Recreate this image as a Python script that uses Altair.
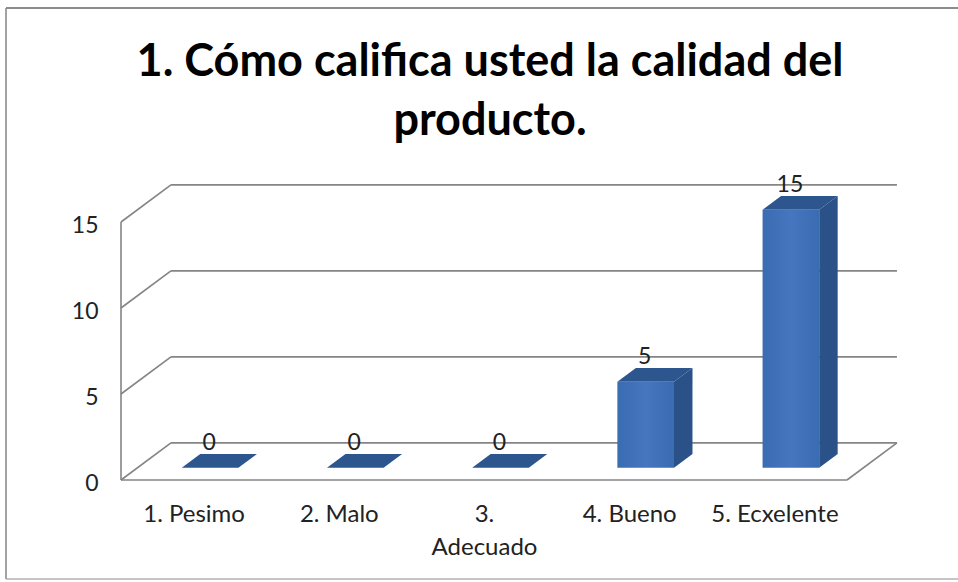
import json
import altair as alt
import pandas as pd

# Survey results
categories = ["1. Pesimo", "2. Malo", "3. Adecuado", "4. Bueno", "5. Ecxelente"]
axis_labels = ["1. Pesimo", "2. Malo", ["3.", "Adecuado"], "4. Bueno", "5. Ecxelente"]
values = [0, 0, 0, 5, 15]
y_ticks = [0, 5, 10, 15]
title_lines = ["1. Cómo califica usted la calidad del", "producto."]

# Oblique projection of the floor depth, in axis units
depth_x = 0.344
depth_y = 2.16
bar_front = 0.33
bar_back = 0.70
bar_width = 0.39

FONT = "Lato"
GRID = "#858585"

x_enc = alt.X(
    "x:Q",
    scale=alt.Scale(domain=[0, 5], nice=False, zero=False),
    axis=alt.Axis(
        values=[i + 0.5 for i in range(len(categories))],
        labelExpr=f"{json.dumps(axis_labels, ensure_ascii=False)}[floor(datum.value)]",
        title=None, domain=False, ticks=False, grid=False,
        labelFont=FONT, labelFontSize=24, labelColor="#222222",
        labelPadding=22, labelOverlap=False, labelFlush=False, labelLineHeight=33,
        labelBaseline="top",
    ),
)
y_enc = alt.Y(
    "y:Q",
    scale=alt.Scale(domain=[0, 15], nice=False, zero=False),
    axis=alt.Axis(
        values=y_ticks, title=None, domain=False, ticks=False, grid=False,
        labelFont=FONT, labelFontSize=23, labelColor="#222222", labelPadding=23,
        labelOffset=3,
    ),
)

# Walls and floor of the 3D frame
segments = []
for t in y_ticks:
    segments.append(dict(x=0, y=t, x1=depth_x, y1=t + depth_y))
    segments.append(dict(x=depth_x, y=t + depth_y, x1=5 + depth_x, y1=t + depth_y))
segments.append(dict(x=0, y=0, x1=0, y1=15))
segments.append(dict(x=0, y=0, x1=5, y1=0))
segments.append(dict(x=5, y=0, x1=5 + depth_x, y1=depth_y))

front, side, top, labels = [], [], [], []
for i, (cat, v) in enumerate(zip(categories, values)):
    left = i + 0.5 - bar_width / 2 + bar_front * depth_x
    right = left + bar_width
    base0, base1 = bar_front * depth_y, bar_back * depth_y
    shift = (bar_back - bar_front) * depth_x
    front.append(dict(cat=cat, x=left, x1=right, y=base0, y1=v + base0))
    side.append(dict(cat=cat, x=right, y=base0, y1=v + base0))
    side.append(dict(cat=cat, x=right + shift, y=base1, y1=v + base1))
    top.append(dict(cat=cat, y=v + base0, x=left, x1=right))
    top.append(dict(cat=cat, y=v + base1, x=left + shift, x1=right + shift))
    labels.append(dict(x=(left + right) / 2, y=v + depth_y, text=str(v)))

walls = alt.Chart(pd.DataFrame(segments)).mark_rule(color=GRID, strokeWidth=1.6).encode(
    x=x_enc, y=y_enc, x2="x1:Q", y2="y1:Q"
)
side_faces = alt.Chart(pd.DataFrame(side)).mark_area(color="#2b5288", opacity=1).encode(
    x=x_enc, y=y_enc, y2="y1:Q", detail="cat:N"
)
top_faces = alt.Chart(pd.DataFrame(top)).mark_area(orient="horizontal", color="#2d568f", opacity=1).encode(
    y=y_enc, x=x_enc, x2="x1:Q", detail="cat:N"
)
front_faces = alt.Chart(pd.DataFrame(front)).mark_rect(
    color=alt.LinearGradient(
        gradient="linear", x1=0, x2=1, y1=0, y2=0,
        stops=[
            alt.GradientStop(offset=0, color="#3a6cb2"),
            alt.GradientStop(offset=0.5, color="#4676be"),
            alt.GradientStop(offset=1, color="#3a6cb2"),
        ],
    )
).encode(x=x_enc, x2="x1:Q", y=y_enc, y2="y1:Q")
value_labels = alt.Chart(pd.DataFrame(labels)).mark_text(
    font=FONT, fontSize=23, color="#222222", baseline="middle", dx=-1
).encode(x=x_enc, y=y_enc, text="text:N")

# Two-line heading above the plot
heading = [
    alt.Chart(pd.DataFrame({"t": [line]})).mark_text(
        font=FONT, fontSize=45, fontWeight="bold", color="black", baseline="middle", align="center"
    ).encode(x=alt.value(369), y=alt.value(py), text="t:N")
    for line, py in zip(title_lines, [-160, -101])
]

# Outer chart border
border = [
    alt.Chart(pd.DataFrame({"k": [0]})).mark_rule(color="#8c8c8c", strokeWidth=sw).encode(
        x=alt.value(x0), x2=alt.value(x1), y=alt.value(y0), y2=alt.value(y1)
    )
    for x0, x1, y0, y1, sw in [
        (-115, 837, -214, -214, 2),
        (-115, -115, -214, 357, 1.6),
        (-115, 837, 357, 357, 1),
    ]
]

chart = alt.layer(walls, side_faces, top_faces, front_faces, value_labels, *heading, *border).properties(
    width=726,
    height=258,
    padding={"left": 121, "top": 222, "right": 111, "bottom": 102},
    autosize=alt.AutoSizeParams(type="none"),
    background="white",
).configure_view(stroke=None)

chart.save("out.html", embed_options={"renderer": "svg", "actions": False})
